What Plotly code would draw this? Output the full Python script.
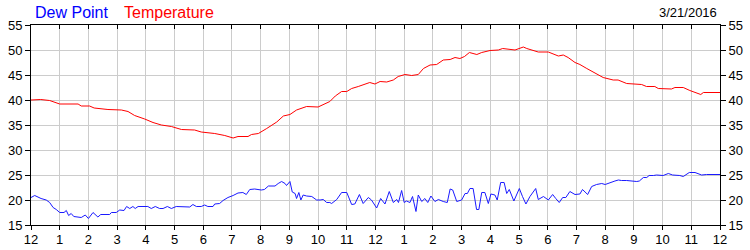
import plotly.graph_objects as go

# ---- data (hours since midnight, °F) ----
temp_hours = [0, 0.34, 0.65, 1.0, 1.64, 1.75, 2.04, 2.2, 2.68, 3.15, 3.38, 3.61, 3.96, 4.25, 4.54, 4.89,
              5.24, 5.70, 5.93, 6.40, 6.75, 7.04, 7.21, 7.56, 7.68, 7.92, 8.21, 8.56, 8.79, 9.02, 9.25,
              9.6, 10.0, 10.24, 10.41, 10.6, 10.82, 11.0, 11.17, 11.4, 11.69, 11.8, 11.98, 12.16, 12.39,
              12.62, 12.79, 13.03, 13.26, 13.49, 13.67, 13.9, 14.13, 14.36, 14.6, 14.77, 14.94, 15.1,
              15.27, 15.53, 15.7, 15.99, 16.28, 16.43, 16.86, 17.15, 17.27, 17.44, 17.67, 18.02, 18.25,
              18.37, 18.54, 18.71, 18.95, 19.12, 19.36, 19.7, 19.93, 20.28, 20.45, 20.75, 21.27, 21.44,
              21.73, 21.85, 22.2, 22.31, 22.43, 22.72, 22.95, 23.21, 23.33, 23.42, 24]
temperature = [40.0, 40.1, 39.9, 39.2, 39.2, 38.8, 38.8, 38.4, 38.1, 38.0, 37.7, 36.9, 36.2, 35.5, 35.0, 34.7,
               34.1, 34.0, 33.6, 33.3, 32.9, 32.4, 32.7, 32.7, 33.1, 33.3, 34.3, 35.6, 36.8, 37.1, 38.0,
               38.7, 38.6, 39.2, 39.7, 40.8, 41.7, 41.7, 42.3, 42.7, 43.2, 43.5, 43.2, 43.7, 43.6,
               44.0, 44.7, 45.1, 44.9, 45.1, 46.3, 47.0, 47.1, 48.0, 48.1, 48.5, 48.3, 48.7,
               49.5, 49.1, 49.5, 49.9, 50.0, 50.3, 50.0, 50.6, 50.3, 50.0, 49.6, 49.6, 49.1,
               48.8, 49.0, 48.5, 47.5, 47.1, 46.3, 45.3, 44.5, 44.0, 44.0, 43.3, 43.1, 42.7,
               42.7, 42.3, 42.3, 42.2, 42.5, 42.5, 41.9, 41.3, 41.1, 41.5, 41.5]

dew_hours = [0, 0.13, 0.35, 0.53, 0.65, 0.77, 0.88, 1.0, 1.15, 1.23, 1.31, 1.4, 1.49, 1.75, 1.89, 2.0, 2.16,
             2.33, 2.43, 2.74, 2.8, 2.97, 3.09, 3.24, 3.33, 3.44, 3.55, 3.63, 3.73, 4.07, 4.19, 4.33, 4.48,
             4.6, 4.75, 4.89, 5.06, 5.35, 5.53, 5.64, 5.76, 5.93, 6.05, 6.16, 6.34, 6.4, 6.57, 6.69, 6.86,
             7.04, 7.21, 7.38, 7.5, 7.62, 7.79, 8.02, 8.13, 8.27, 8.5, 8.61, 8.73, 8.85, 8.9, 9.02, 9.1,
             9.2, 9.25, 9.33, 9.4, 9.48, 9.6, 9.78, 9.95, 10.07, 10.18, 10.3, 10.41, 10.47, 10.65, 10.82,
             11.0, 11.17, 11.28, 11.44, 11.57, 11.75, 11.86, 12.04, 12.18, 12.33, 12.48, 12.62, 12.74, 12.8,
             12.91, 13.0, 13.08, 13.2, 13.29, 13.41, 13.49, 13.61, 13.72, 13.82, 13.93, 14.07, 14.19, 14.36,
             14.5, 14.6, 14.69, 14.83, 15.0, 15.12, 15.2, 15.29, 15.4, 15.52, 15.6, 15.7, 15.81, 15.93,
             16.02, 16.16, 16.24, 16.36, 16.48, 16.57, 16.66, 16.82, 17.01, 17.12, 17.24, 17.38, 17.58,
             17.67, 17.85, 18.02, 18.17, 18.28, 18.4, 18.52, 18.63, 18.77, 18.95, 19.12, 19.21, 19.39,
             19.53, 19.7, 19.88, 20.0, 20.17, 20.34, 20.46, 20.57, 20.75, 21.1, 21.19, 21.33, 21.45, 21.53,
             21.68, 21.79, 22.02, 22.2, 22.35, 22.49, 22.6, 22.72, 22.93, 23.13, 23.24, 23.36, 23.53, 24]
dew_point = [20.5, 20.9, 20.3, 20.0, 19.5, 18.5, 18.1, 17.5, 17.5, 17.9, 16.9, 17.3, 16.7, 16.5, 17.0, 16.3, 17.5,
             16.6, 17.1, 17.1, 17.5, 17.5, 18.0, 17.9, 18.7, 18.3, 18.7, 18.3, 18.7, 18.7, 18.3, 18.7, 18.3,
             18.3, 18.7, 18.3, 18.7, 18.7, 18.6, 19.1, 18.7, 18.7, 19.0, 18.7, 18.7, 19.2, 19.3, 19.9, 20.5,
             20.9, 21.4, 21.5, 21.1, 22.1, 22.2, 22.0, 22.1, 22.8, 22.8, 23.3, 23.7, 23.3, 22.9, 23.7, 21.6,
             21.3, 20.3, 21.5, 20.0, 21.0, 20.8, 20.7, 20.0, 20.0, 20.1, 19.5, 19.5, 19.3, 20.1, 21.5,
             21.5, 19.1, 19.2, 21.1, 19.3, 20.5, 20.0, 18.4, 20.3, 19.2, 21.7, 19.5, 20.1, 19.5,
             21.9, 19.5, 19.8, 19.5, 20.7, 17.7, 21.0, 19.7, 20.3, 19.5, 20.8, 19.7, 20.1, 19.7,
             19.5, 22.2, 22.0, 19.7, 20.0, 21.3, 21.3, 22.3, 22.3, 18.1, 18.1, 21.5, 21.5, 19.3,
             21.2, 21.0, 20.0, 23.5, 23.5, 21.3, 22.1, 19.8, 22.3, 20.7, 19.2, 20.7, 22.3,
             20.1, 20.7, 20.0, 21.1, 20.3, 19.5, 20.5, 20.5, 21.7, 21.1, 21.2, 22.1, 21.1,
             22.7, 23.1, 23.3, 23.1, 23.5, 23.8, 24.0, 23.9, 23.9, 23.7, 23.8, 24.5, 24.5, 24.9,
             24.9, 25.0, 24.9, 25.3, 25.0, 25.0, 24.9, 24.7, 25.5, 25.5, 25.3, 25.0, 25.1, 25.1]

hour_ticks = list(range(25))
hour_labels = ["12", "1", "2", "3", "4", "5", "6", "7", "8", "9", "10", "11",
               "12", "1", "2", "3", "4", "5", "6", "7", "8", "9", "10", "11", "12"]
y_ticks = [15, 20, 25, 30, 35, 40, 45, 50, 55]
date_label = "3/21/2016"
series_names = ["Dew Point", "Temperature"]

FONT = "Liberation Sans, Arial, sans-serif"
GRID = "#cccccc"

fig = go.Figure()
fig.add_trace(go.Scatter(x=dew_hours, y=dew_point, mode="lines", name=series_names[0],
                         line=dict(color="#1a1aff", width=1), xaxis="x2", yaxis="y2"))
fig.add_trace(go.Scatter(x=temp_hours, y=temperature, mode="lines", name=series_names[1],
                         line=dict(color="#ff0000", width=1), xaxis="x", yaxis="y"))

common_x = dict(range=[0, 24], tickmode="array", tickvals=hour_ticks, ticktext=hour_labels,
                showgrid=True, gridcolor=GRID, gridwidth=1, zeroline=False, automargin=False,
                linecolor="black", linewidth=1, ticklen=4, tickcolor="black")
common_y = dict(range=[15, 55], tickmode="array", tickvals=y_ticks, showgrid=True, gridcolor=GRID,
                gridwidth=1, zeroline=False, linecolor="black", linewidth=1, ticklen=5,
                tickcolor="black", ticks="outside", showline=True, automargin=False)

W, H = 750, 250
ML, MR, MT, MB = 31, 30, 25, 25

fig.update_layout(
    width=W, height=H,
    margin=dict(l=ML, r=MR, t=MT, b=MB, pad=0, autoexpand=False),
    paper_bgcolor="white", plot_bgcolor="white",
    showlegend=False,
    font=dict(family=FONT, size=13, color="black"),
    xaxis=dict(**common_x, side="bottom", ticks="outside", showline=True, mirror=True,
               tickfont=dict(size=13), ticklabelstandoff=-2),
    xaxis2=dict(**common_x, overlaying="x", side="top", ticks="inside", showline=False,
                showticklabels=False),
    yaxis=dict(**common_y, side="left", mirror=True),
    yaxis2=dict(**common_y, overlaying="y", side="right"),
)

# header texts (pixel positions converted to paper coords)
pw, ph = W - ML - MR, H - MT - MB
def px(x): return (x - ML) / pw
def py(y): return (H - MB - y) / ph

fig.add_annotation(text=series_names[0], x=px(33), y=py(12.5), xref="paper", yref="paper",
                   xanchor="left", yanchor="middle", showarrow=False,
                   font=dict(size=16, color="#0000ff", family=FONT))
fig.add_annotation(text=series_names[1], x=px(122), y=py(12.5), xref="paper", yref="paper",
                   xanchor="left", yanchor="middle", showarrow=False,
                   font=dict(size=16, color="#ff0000", family=FONT))
fig.add_annotation(text=date_label, x=px(719), y=py(12.5), xref="paper", yref="paper",
                   xanchor="right", yanchor="middle", showarrow=False,
                   font=dict(size=13, color="black", family=FONT))

fig.write_html("out.html")
